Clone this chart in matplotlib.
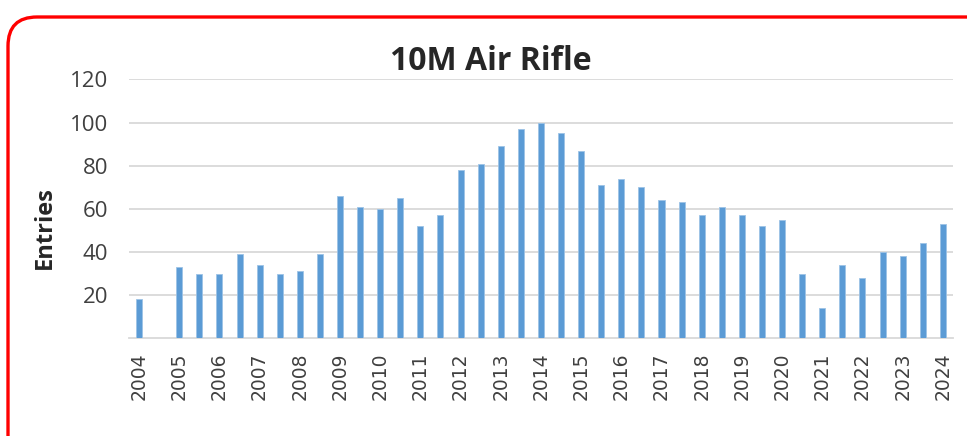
import matplotlib
matplotlib.use("Agg")
import matplotlib.pyplot as plt
from matplotlib.patches import FancyBboxPatch

# half-yearly entries, 2004 .. 2024 (None = no match held)
years = list(range(2004, 2025))
entries = [18, None, 33, 30, 30, 39, 34, 30, 31, 39, 66, 61, 60, 65, 52, 57,
           78, 81, 89, 97, 100, 95, 87, 71, 74, 70, 64, 63, 57, 61, 57, 52,
           55, 30, 14, 34, 28, 40, 38, 44, 53]
title = "10M Air Rifle"
ylabel = "Entries"
yticks = [20, 40, 60, 80, 100, 120]

bar_color = "#5B9BD5"
grid_color = "#D9D9D9"
text_color = "#404040"

fig = plt.figure(figsize=(9.67, 4.36), dpi=100)
ax = fig.add_axes([0.1334, 0.224, 0.852, 0.594])

xs = [i for i, v in enumerate(entries) if v is not None]
vals = [v for v in entries if v is not None]
ax.bar(xs, vals, width=0.3, color=bar_color, edgecolor="#9DC3E6", linewidth=0.6, zorder=3)

ax.set_xlim(-0.5, len(entries) - 0.5)
ax.set_ylim(0, 120)
ax.set_yticks(yticks)
ax.set_yticklabels([str(t) for t in yticks], fontsize=16, color=text_color, family="Open Sans")
ax.set_xticks(range(0, len(entries), 2))
ax.set_xticklabels([str(y) for y in years], rotation=90, fontsize=13.5, color=text_color)
ax.tick_params(axis="both", length=0)
ax.tick_params(axis="y", pad=15)
ax.tick_params(axis="x", pad=10)

ax.grid(axis="y", color=grid_color, linewidth=1.3, zorder=0)
for s in ["top", "right", "left"]:
    ax.spines[s].set_visible(False)
ax.spines["bottom"].set_color(grid_color)
ax.spines["bottom"].set_linewidth(1.3)

ax.set_ylabel(ylabel, fontsize=17, fontweight="bold", color="#262626", family="Open Sans")
ax.yaxis.set_label_coords(-0.087, 0.426)
fig.text(0.508, 0.858, title, ha="center", va="center", fontsize=23, fontweight="bold",
         color="#262626", family="Open Sans")

# red rounded frame around the chart
frame = FancyBboxPatch((8 / 967, -0.2), 1.2, (436 - 17) / 436 + 0.2,
                       boxstyle="round,pad=0,rounding_size=0.03",
                       transform=fig.transFigure, fill=False, edgecolor="#FF0000",
                       linewidth=2.4, clip_on=False, mutation_aspect=967 / 436)
fig.patches.append(frame)

fig.savefig("out.png", dpi=100, facecolor="white")
